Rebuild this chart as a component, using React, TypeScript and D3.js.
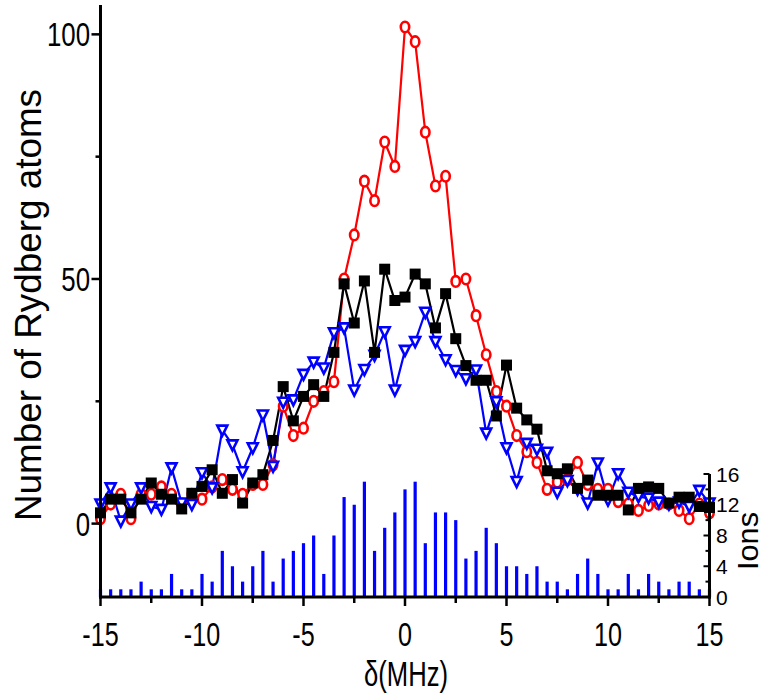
import React from "react";
import * as d3 from "d3";

const detuning = [
  -15, -14.5, -14, -13.5, -13, -12.5, -12, -11.5, -11, -10.5, -10, -9.5, -9, -8.5, -8, -7.5,
  -7, -6.5, -6, -5.5, -5, -4.5, -4, -3.5, -3, -2.5, -2, -1.5, -1, -0.5, 0, 0.5, 1, 1.5, 2,
  2.5, 3, 3.5, 4, 4.5, 5, 5.5, 6, 6.5, 7, 7.5, 8, 8.5, 9, 9.5, 10, 10.5, 11, 11.5, 12, 12.5,
  13, 13.5, 14, 14.5, 15,
];

const redSeries = [
  1, 4, 6, 1, 6, 6, 7.5, 6, 4, 6, 5, 7.5, 9, 7, 6, 8, 8, 12, 24, 18, 19.5, 25, 27, 29, 50,
  59, 70, 66, 78, 73, 101.5, 98.5, 80, 69, 71, 49.5, 50, 42.5, 34.5, 27, 24, 18, 14.7, 12.5,
  7, 8.5, 9, 12.5, 8, 7, 7, 4.5, 4, 2.7, 3.7, 4, 4, 2.7, 1, 4, 2.2,
];

const blackSeries = [
  2.2, 5, 5, 2.2, 5, 8.3, 6, 5, 3, 6.2, 7.6, 11, 6.2, 9, 4.2, 8.3, 10, 17, 28, 21, 26, 28.4,
  26, 35, 49, 41, 49.6, 35, 52, 45.6, 46.3, 51, 49, 40, 47, 37.8, 32.3, 29.3, 29.3, 22, 32.4,
  23.6, 21.2, 19.3, 10.8, 10.2, 11.2, 7.2, 8.9, 5.8, 5.8, 5.8, 2.8, 7.2, 7.5, 7.2, 4.2, 5.4,
  5.4, 3.5, 3.3,
];

const blueSeries = [
  4, 7.3, 0.5, 4, 7.3, 3.5, 2.9, 11.4, 4.2, 3.9, 10.4, 7.3, 19.1, 16.1, 10.6, 15.5, 22.2,
  11.7, 24.8, 25.3, 30.5, 33, 31.8, 39, 40, 27.3, 31.5, 34.4, 39.2, 27.3, 35.4, 37.2, 43.2,
  37.2, 33.5, 31.3, 29.6, 31.4, 18.5, 24.9, 15.5, 8.6, 16.4, 15.2, 14.6, 6.4, 8.8, 7, 4.2,
  12.4, 4.8, 10.2, 6.4, 5.5, 5.2, 4.4, 4, 4.4, 3.5, 6.8, 4.2,
];

const ionCounts = [
  1, 1, 1, 1, 2, 1, 1, 3, 1, 1, 3, 2, 6, 4, 2, 4, 6, 2, 5, 6, 7, 8, 3, 8, 13, 12, 15, 6, 9,
  11, 14, 15, 7, 11, 11, 10, 5, 6, 9, 7, 4, 4, 3, 4, 2, 2, 1, 3, 5, 3, 1, 1, 3, 1, 3, 2, 1,
  2, 2, 1, 1,
];

const xMajorTicks = [-15, -10, -5, 0, 5, 10, 15];
const xMinorTicks = [-12.5, -7.5, -2.5, 2.5, 7.5, 12.5];
const yMajorTicks = [0, 50, 100];
const yMinorTicks = [25, 75];
const ionMajorTicks = [0, 4, 8, 12, 16];
const ionMinorTicks = [2, 6, 10, 14];

const FONT = "'Liberation Sans', Arial, Helvetica, sans-serif";

export default function App() {
  const x = d3.scaleLinear().domain([-15, 15]).range([100.5, 709.5]);
  const y = d3.scaleLinear().domain([-15, 106]).range([597, 5]);
  const yIon = d3.scaleLinear().domain([0, 16]).range([597, 474]);

  const mk = (vals: number[]) =>
    d3
      .line<number>()
      .x((_, i) => x(detuning[i]))
      .y((d) => y(d))(vals) as string;

  const axisColor = "#000";

  return (
    <svg
      width={764}
      height={696}
      style={{ position: "absolute", left: 0, top: 0, background: "#fff" }}
      fontFamily={FONT}
    >
      <rect x={0} y={0} width={764} height={696} fill="#fff" />

      {/* ion bars */}
      {ionCounts.map((c, i) => (
        <rect
          key={"b" + i}
          x={x(detuning[i]) - 1.6}
          y={yIon(c)}
          width={3.2}
          height={yIon(0) - yIon(c)}
          fill="#0000ff"
        />
      ))}

      {/* lines */}
      <path d={mk(redSeries)} fill="none" stroke="#ff0000" strokeWidth={2.2} />
      <path d={mk(blueSeries)} fill="none" stroke="#0000ff" strokeWidth={2.2} />
      <path d={mk(blackSeries)} fill="none" stroke="#000" strokeWidth={2.2} />

      {/* red open circles */}
      {redSeries.map((v, i) => (
        <ellipse
          key={"r" + i}
          cx={x(detuning[i])}
          cy={y(v)}
          rx={4.2}
          ry={5.3}
          fill="#fff"
          stroke="#ff0000"
          strokeWidth={2.6}
        />
      ))}
      {/* blue open down triangles */}
      {blueSeries.map((v, i) => {
        const cx = x(detuning[i]);
        const cy = y(v);
        return (
          <path
            key={"t" + i}
            d={`M${cx - 5},${cy - 4.5} L${cx + 5},${cy - 4.5} L${cx},${cy + 5.5} Z`}
            fill="#fff"
            stroke="#0000ff"
            strokeWidth={2.6}
          />
        );
      })}
      {/* black filled squares */}
      {blackSeries.map((v, i) => (
        <rect
          key={"s" + i}
          x={x(detuning[i]) - 5.5}
          y={y(v) - 5.5}
          width={11}
          height={11}
          fill="#000"
        />
      ))}

      {/* axes */}
      <line x1={x(-15)} x2={x(-15)} y1={5} y2={598.5} stroke={axisColor} strokeWidth={3} />
      <line x1={x(-15) - 1.5} x2={x(15) + 1.5} y1={597} y2={597} stroke={axisColor} strokeWidth={3} />
      <line x1={x(15)} x2={x(15)} y1={yIon(16)} y2={598.5} stroke={axisColor} strokeWidth={3} />

      {/* x ticks */}
      {xMajorTicks.map((t) => (
        <g key={"xt" + t}>
          <line x1={x(t)} x2={x(t)} y1={597} y2={606} stroke={axisColor} strokeWidth={2.5} />
          <text
            transform={`translate(${x(t)},646) scale(0.74,1)`}
            textAnchor="middle"
            fontSize={34}
            fill="#000"
          >
            {t}
          </text>
        </g>
      ))}
      {xMinorTicks.map((t) => (
        <line key={"xm" + t} x1={x(t)} x2={x(t)} y1={597} y2={603} stroke={axisColor} strokeWidth={2.5} />
      ))}

      {/* left y ticks */}
      {yMajorTicks.map((t) => (
        <g key={"yt" + t}>
          <line x1={x(-15) - 9} x2={x(-15)} y1={y(t)} y2={y(t)} stroke={axisColor} strokeWidth={2.5} />
          <text
            transform={`translate(90,${y(t) + 12}) scale(0.76,1)`}
            textAnchor="end"
            fontSize={34}
            fill="#000"
          >
            {t}
          </text>
        </g>
      ))}
      {yMinorTicks.map((t) => (
        <line key={"ym" + t} x1={x(-15) - 5} x2={x(-15)} y1={y(t)} y2={y(t)} stroke={axisColor} strokeWidth={2.5} />
      ))}

      {/* right ion axis ticks */}
      {ionMajorTicks.map((t) => (
        <g key={"it" + t}>
          <line x1={x(15) - 6} x2={x(15)} y1={yIon(t)} y2={yIon(t)} stroke={axisColor} strokeWidth={2} />
          <text x={716} y={yIon(t) + 7.5} fontSize={21} fill="#000">
            {t}
          </text>
        </g>
      ))}
      {ionMinorTicks.map((t) => (
        <line key={"im" + t} x1={x(15) - 4} x2={x(15)} y1={yIon(t)} y2={yIon(t)} stroke={axisColor} strokeWidth={2} />
      ))}

      {/* axis titles */}
      <text
        x={406}
        y={686}
        textAnchor="middle"
        fontSize={35}
        textLength={84}
        lengthAdjust="spacingAndGlyphs"
        fill="#000"
      >
        δ(MHz)
      </text>
      <text
        transform="translate(41,305) rotate(-90)"
        textAnchor="middle"
        fontSize={37}
        textLength={432}
        lengthAdjust="spacingAndGlyphs"
        fill="#000"
      >
        Number of Rydberg atoms
      </text>
      <text
        transform="translate(758,541) rotate(-90)"
        textAnchor="middle"
        fontSize={29}
        textLength={58}
        lengthAdjust="spacingAndGlyphs"
        fill="#000"
      >
        Ions
      </text>
    </svg>
  );
}
